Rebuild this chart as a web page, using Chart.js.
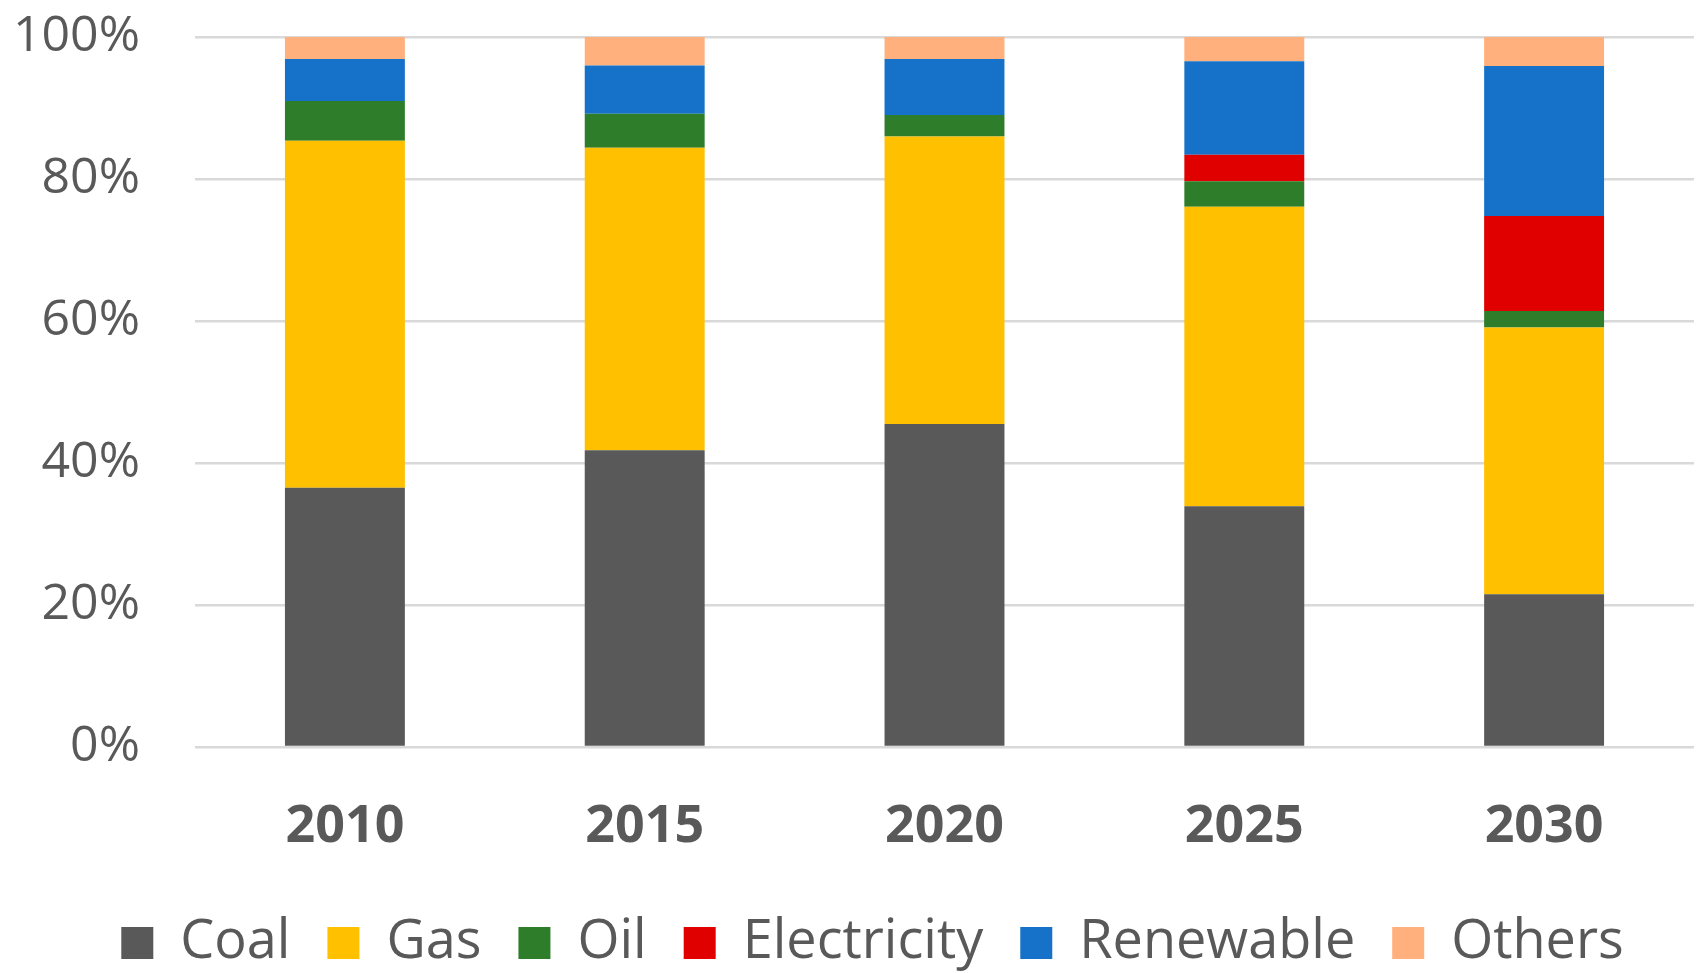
<!DOCTYPE html>
<html lang="en">
<head>
    <meta charset="UTF-8">
    <title>Energy Mix Share</title>
    <script src="https://cdn.jsdelivr.net/npm/chart.js"></script>
    <style>
        html, body { margin: 0; padding: 0; background: #ffffff; }
        #wrap { width: 1708px; height: 973px; }
    </style>
</head>
<body>
    <div id="wrap"><canvas id="mixChart"></canvas></div>
    <script>
        // values (% share per year)
        const years = ['2010', '2015', '2020', '2025', '2030'];
        const coal        = [36.5, 41.8, 45.5, 33.9, 21.5];
        const gas         = [48.9, 42.6, 40.5, 42.2, 37.6];
        const oil         = [5.6, 4.8, 3.0, 3.6, 2.3];
        const electricity = [0, 0, 0, 3.7, 13.4];
        const renewable   = [5.9, 6.8, 7.9, 13.2, 21.1];
        const others      = [3.1, 4.0, 3.1, 3.4, 4.1];
        const yTicks = [0, 20, 40, 60, 80, 100];

        const textGray = '#595959';

        function series(label, data, color) {
            return {
                label: label,
                data: data,
                backgroundColor: color,
                borderWidth: 0,
                barPercentage: 0.8,
                categoryPercentage: 0.5
            };
        }

        // the legend in the reference sits a bit right of the page centre
        const legendShift = {
            id: 'legendShift',
            afterLayout(chart) {
                chart.legend.left += 19;
                chart.legend.right += 19;
            }
        };

        const ctx = document.getElementById('mixChart').getContext('2d');
        new Chart(ctx, {
            type: 'bar',
            data: {
                labels: years,
                datasets: [
                    series('Coal', coal, '#595959'),
                    series('Gas', gas, '#FFC000'),
                    series('Oil', oil, '#2E7D2A'),
                    series('Electricity', electricity, '#E00000'),
                    series('Renewable', renewable, '#1672C9'),
                    series('Others', others, '#FFB07C')
                ]
            },
            plugins: [legendShift],
            options: {
                responsive: true,
                maintainAspectRatio: false,
                animation: false,
                layout: { padding: { left: 13, right: 14, top: 0, bottom: -7 } },
                plugins: {
                    tooltip: { enabled: false },
                    legend: {
                        position: 'bottom',
                        labels: {
                            color: textGray,
                            font: { family: 'Open Sans', size: 54 },
                            boxWidth: 32,
                            boxHeight: 32,
                            padding: 37
                        }
                    }
                },
                scales: {
                    x: {
                        stacked: true,
                        afterFit: function (axis) {
                            axis.height = 132;
                        },
                        grid: { display: false, drawTicks: false },
                        border: { display: false },
                        ticks: {
                            color: textGray,
                            font: { family: 'Open Sans', size: 52, weight: 'bold' },
                            padding: 49
                        }
                    },
                    y: {
                        stacked: true,
                        min: 0,
                        max: 100,
                        afterBuildTicks: function (axis) {
                            axis.ticks = yTicks.map(v => ({ value: v }));
                        },
                        afterFit: function (axis) {
                            // keep the label column and top margin as in the reference
                            axis.width = 182;
                            axis.paddingTop = 37;
                            axis.paddingBottom = 30;
                        },
                        grid: { color: '#d9d9d9', lineWidth: 2.5, drawTicks: false },
                        border: { display: false },
                        ticks: {
                            color: textGray,
                            font: { family: 'Open Sans', size: 50 },
                            padding: 55,
                            callback: v => v + '%'
                        }
                    }
                }
            }
        });
    </script>
</body>
</html>
